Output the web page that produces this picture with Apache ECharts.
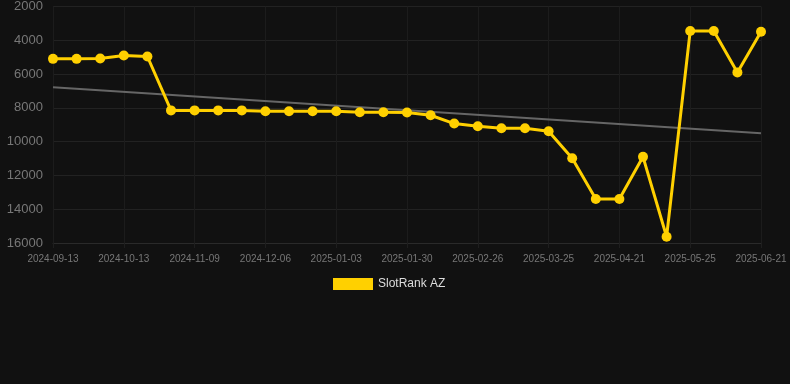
<!DOCTYPE html>
<html>
<head>
<meta charset="utf-8">
<script src="https://cdn.jsdelivr.net/npm/echarts@6/dist/echarts.min.js"></script>
<style>
html,body{margin:0;padding:0;background:#111111;}
#chart{width:790px;height:384px;}
</style>
</head>
<body>
<div id="chart"></div>
<script>
const categories = [
  "2024-09-13","2024-09-23","2024-10-03","2024-10-13","2024-10-22","2024-10-31",
  "2024-11-09","2024-11-18","2024-11-27","2024-12-06","2024-12-15","2024-12-24",
  "2025-01-03","2025-01-12","2025-01-21","2025-01-30","2025-02-08","2025-02-17",
  "2025-02-26","2025-03-07","2025-03-16","2025-03-25","2025-04-03","2025-04-12",
  "2025-04-21","2025-05-02","2025-05-13","2025-05-25","2025-06-03","2025-06-12",
  "2025-06-21"
];
const rankValues = [
  5100, 5100, 5080, 4900, 4960, 8150,
  8150, 8150, 8150, 8200, 8200, 8200,
  8200, 8260, 8260, 8270, 8440, 8930,
  9090, 9210, 9210, 9380, 10980, 13400,
  13400, 10900, 15630, 3450, 3450, 5900,
  3500
];
const trendStart = 6780;
const trendEnd = 9500;
const yTicks = [2000, 4000, 6000, 8000, 10000, 12000, 14000, 16000];

const trendData = categories.map((c, i) =>
  i === 0 ? trendStart : (i === categories.length - 1 ? trendEnd : null));

const chart = echarts.init(document.getElementById('chart'));
chart.setOption({
  backgroundColor: '#111111',
  animation: false,
  grid: { left: 53, right: 29, top: 6, bottom: 141 },
  legend: {
    data: [{ name: 'SlotRank AZ', icon: 'rect' }],
    top: 278,
    left: 333,
    itemWidth: 40,
    itemHeight: 12,
    itemGap: 10,
    padding: 0,
    textStyle: { color: '#dddddd', fontSize: 12, fontFamily: 'Arial, Liberation Sans, sans-serif' }
  },
  xAxis: {
    type: 'category',
    data: categories,
    boundaryGap: false,
    axisLine: { show: true, lineStyle: { color: '#2a2a2a' } },
    axisTick: { show: true, interval: 2, length: 5, lineStyle: { color: '#1e1e1e' } },
    axisLabel: {
      interval: 2,
      color: '#777777',
      fontSize: 10,
      margin: 11,
      fontFamily: 'Arial, Liberation Sans, sans-serif'
    },
    splitLine: { show: true, interval: 2, lineStyle: { color: '#1c1c1c', width: 1 } }
  },
  yAxis: {
    type: 'value',
    inverse: true,
    min: yTicks[0],
    max: yTicks[yTicks.length - 1],
    interval: 2000,
    axisLine: { show: false },
    axisTick: { show: false },
    axisLabel: {
      color: '#777777',
      fontSize: 13,
      margin: 10,
      formatter: v => String(v),
      fontFamily: 'Arial, Liberation Sans, sans-serif'
    },
    splitLine: { show: true, lineStyle: { color: '#222222', width: 1 } }
  },
  series: [
    {
      name: 'SlotRank AZ',
      type: 'line',
      data: rankValues,
      symbol: 'circle',
      symbolSize: 10,
      itemStyle: { color: '#FFD000' },
      lineStyle: { color: '#FFD000', width: 3 },
      z: 3
    },
    {
      name: 'Trend',
      type: 'line',
      data: trendData,
      connectNulls: true,
      symbol: 'none',
      lineStyle: { color: '#666666', width: 2 },
      z: 2
    }
  ]
});
</script>
</body>
</html>
